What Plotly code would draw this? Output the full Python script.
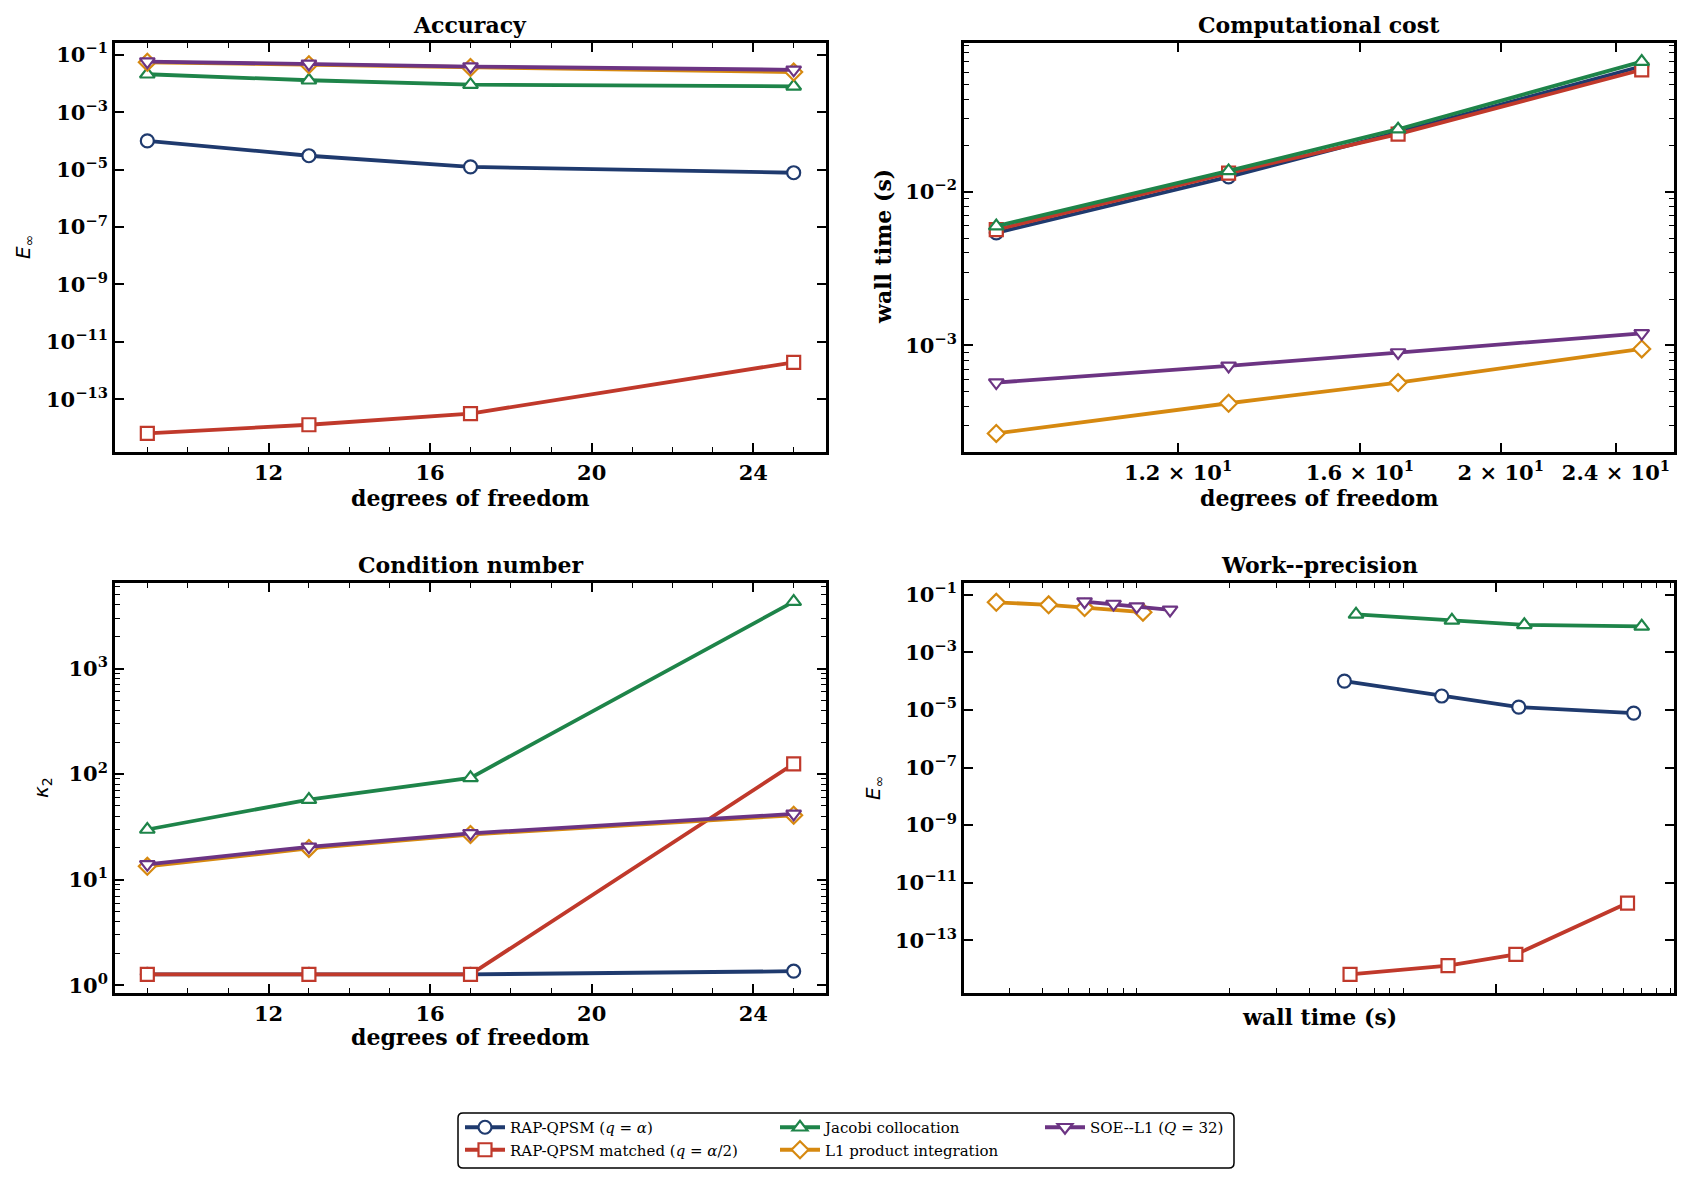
import math
import plotly.graph_objects as go

W, H = 1691, 1184

# degrees of freedom
dof = [9, 13, 17, 25]

# sup-norm error E_inf
err_rap = [1.0e-4, 3.05e-5, 1.25e-5, 7.8e-6]
err_matched = [6.5e-15, 1.3e-14, 3.2e-14, 1.95e-12]
err_jacobi = [0.021, 0.013, 0.0091, 0.0080]
err_l1 = [0.055, 0.045, 0.036, 0.025]
err_soe = [0.058, 0.048, 0.039, 0.030]

# wall time (s)
time_rap = [5.4e-3, 0.0125, 0.0243, 0.0655]
time_matched = [5.67e-3, 0.0132, 0.0237, 0.0621]
time_jacobi = [5.97e-3, 0.01365, 0.0255, 0.0702]
time_l1 = [2.68e-4, 4.21e-4, 5.74e-4, 9.5e-4]
time_soe = [5.74e-4, 7.37e-4, 9.0e-4, 1.2e-3]

# condition number kappa_2
cond_rap = [1.27, 1.27, 1.27, 1.36]
cond_matched = [1.27, 1.27, 1.27, 125]
cond_jacobi = [29.9, 57.4, 92.3, 4300]
cond_l1 = [13.4, 19.8, 26.8, 40.8]
cond_soe = [14.0, 20.5, 27.5, 42.0]

names = [
    "RAP-QPSM (<i>q</i> = <i>α</i>)",
    "RAP-QPSM matched (<i>q</i> = <i>α</i>/2)",
    "Jacobi collocation",
    "L1 product integration",
    "SOE--L1 (<i>Q</i> = 32)",
]
errs = [err_rap, err_matched, err_jacobi, err_l1, err_soe]
times = [time_rap, time_matched, time_jacobi, time_l1, time_soe]
conds = [cond_rap, cond_matched, cond_jacobi, cond_l1, cond_soe]

colors = ["#1f3a6e", "#c0392b", "#1e8449", "#d68910", "#6c3483"]
symbols = ["circle", "square", "triangle-up", "diamond", "triangle-down"]
legend_ids = ["legend", "legend", "legend2", "legend2", "legend3"]

tick_font = dict(family="DejaVu Serif", size=21, color="black", weight="bold")
head_font = dict(family="DejaVu Serif", size=22, color="black", weight="bold")
math_font = dict(family="DejaVu Sans", size=20, color="black")
legend_font = dict(family="DejaVu Serif", size=15, color="black")


def px(x):
    return x / W


def py(y):
    return 1 - y / H


def log_range(values, pad=0.05):
    lo = math.log10(min(values))
    hi = math.log10(max(values))
    d = (hi - lo) * pad
    return [lo - d, hi + d]


def lin_range(values, pad=0.05):
    d = (max(values) - min(values)) * pad
    return [min(values) - d, max(values) + d]


def pow_text(exps):
    return ["10<sup>" + str(e).replace("-", "−") + "</sup>" for e in exps]


def decades(lo, hi, mults):
    return [m * 10 ** e for e in range(lo, hi + 1) for m in mults]


axis_base = dict(
    showline=True, linecolor="black", linewidth=2.8, mirror="ticks",
    ticks="inside", ticklen=9, tickwidth=1.8, tickcolor="black",
    showgrid=False, zeroline=False, automargin=False, tickfont=tick_font,
)
minor_base = dict(ticks="inside", ticklen=5, tickwidth=1.3, tickcolor="black", showgrid=False)

fig = go.Figure()

for i in range(5):
    style = dict(
        mode="lines+markers",
        line=dict(color=colors[i], width=3.8),
        marker=dict(symbol=symbols[i], size=13, color="white",
                    line=dict(color=colors[i], width=2.2)),
        name=names[i],
        legend=legend_ids[i],
        cliponaxis=False,
    )
    fig.add_trace(go.Scatter(x=dof, y=errs[i], xaxis="x", yaxis="y", showlegend=True, **style))
    fig.add_trace(go.Scatter(x=dof, y=times[i], xaxis="x2", yaxis="y2", showlegend=False, **style))
    fig.add_trace(go.Scatter(x=dof, y=conds[i], xaxis="x3", yaxis="y3", showlegend=False, **style))
    fig.add_trace(go.Scatter(x=times[i], y=errs[i], xaxis="x4", yaxis="y4", showlegend=False, **style))

all_err = sum(errs, [])
all_time = sum(times, [])
all_cond = sum(conds, [])

dof_ticks = [12, 16, 20, 24]
dof_minor = [d for d in range(9, 26) if d not in dof_ticks]
err_exps = [-1, -3, -5, -7, -9, -11, -13]

xl = [px(115), px(826)]
xr = [px(964), px(1674)]
yt = [py(452), py(43)]
yb = [py(993), py(583)]

legend_base = dict(yanchor="top", xanchor="left", font=legend_font, bgcolor="rgba(0,0,0,0)",
                   borderwidth=0, itemwidth=40, tracegroupgap=0)

fig.update_layout(
    width=W, height=H,
    margin=dict(l=0, r=0, t=0, b=0),
    paper_bgcolor="white", plot_bgcolor="white",
    xaxis=dict(axis_base, domain=xl, anchor="y", range=lin_range(dof),
               tickvals=dof_ticks, minor=dict(minor_base, tickvals=dof_minor)),
    yaxis=dict(axis_base, domain=yt, anchor="x", type="log", range=log_range(all_err),
               tickvals=[10 ** e for e in err_exps], ticktext=pow_text(err_exps)),
    xaxis2=dict(axis_base, domain=xr, anchor="y2", type="log", range=log_range(dof),
                tickvals=dof_ticks,
                ticktext=["1.2 × 10<sup>1</sup>", "1.6 × 10<sup>1</sup>",
                          "2 × 10<sup>1</sup>", "2.4 × 10<sup>1</sup>"]),
    yaxis2=dict(axis_base, domain=yt, anchor="x2", type="log", range=log_range(all_time),
                tickvals=[1e-3, 1e-2], ticktext=pow_text([-3, -2]),
                minor=dict(minor_base, tickvals=decades(-4, -4, range(3, 10))
                           + decades(-3, -2, range(2, 10)))),
    xaxis3=dict(axis_base, domain=xl, anchor="y3", range=lin_range(dof),
                tickvals=dof_ticks, minor=dict(minor_base, tickvals=dof_minor)),
    yaxis3=dict(axis_base, domain=yb, anchor="x3", type="log", range=log_range(all_cond),
                tickvals=[1, 10, 100, 1000], ticktext=pow_text([0, 1, 2, 3]),
                minor=dict(minor_base, tickvals=decades(0, 2, range(2, 10))
                           + decades(3, 3, range(2, 7)))),
    xaxis4=dict(axis_base, domain=xr, anchor="y4", type="log", range=log_range(all_time),
                tickvals=[0.02], showticklabels=False,
                minor=dict(minor_base, tickvals=decades(-4, -4, range(3, 10))
                           + decades(-3, -3, range(2, 10))
                           + decades(-2, -2, range(3, 10)))),
    yaxis4=dict(axis_base, domain=yb, anchor="x4", type="log", range=log_range(all_err),
                tickvals=[10 ** e for e in err_exps], ticktext=pow_text(err_exps)),
    legend=dict(legend_base, x=px(460), y=py(1111)),
    legend2=dict(legend_base, x=px(775), y=py(1111)),
    legend3=dict(legend_base, x=px(1040), y=py(1111)),
)

# rounded legend frame
x0, x1, y0, y1 = 458, 1234, 1113, 1168
r = 5
frame = (
    f"M {px(x0 + r)},{py(y0)} L {px(x1 - r)},{py(y0)} Q {px(x1)},{py(y0)} {px(x1)},{py(y0 + r)} "
    f"L {px(x1)},{py(y1 - r)} Q {px(x1)},{py(y1)} {px(x1 - r)},{py(y1)} "
    f"L {px(x0 + r)},{py(y1)} Q {px(x0)},{py(y1)} {px(x0)},{py(y1 - r)} "
    f"L {px(x0)},{py(y0 + r)} Q {px(x0)},{py(y0)} {px(x0 + r)},{py(y0)} Z"
)
fig.add_shape(type="path", path=frame, xref="paper", yref="paper",
              line=dict(color="black", width=1.5), fillcolor="rgba(0,0,0,0)")

labels = [
    ("Accuracy", 470, 25, 0, head_font),
    ("Computational cost", 1319, 25, 0, head_font),
    ("Condition number", 470, 565, 0, head_font),
    ("Work--precision", 1319, 565, 0, head_font),
    ("degrees of freedom", 470, 498, 0, head_font),
    ("degrees of freedom", 1319, 498, 0, head_font),
    ("degrees of freedom", 470, 1037, 0, head_font),
    ("wall time (s)", 1319, 1017, 0, head_font),
    ("<i>E</i><sub>∞</sub>", 24, 247, -90, math_font),
    ("wall time (s)", 883, 247, -90, head_font),
    ("<i>κ</i><sub>2</sub>", 42, 788, -90, math_font),
    ("<i>E</i><sub>∞</sub>", 874, 788, -90, math_font),
]
for text, lx, ly, ang, font in labels:
    fig.add_annotation(text=text, x=px(lx), y=py(ly), xref="paper", yref="paper",
                       xanchor="center", yanchor="middle", textangle=ang,
                       showarrow=False, font=font)

fig.write_html("out.html", config={"displayModeBar": False},
               post_script="document.body.style.margin = '0';")
